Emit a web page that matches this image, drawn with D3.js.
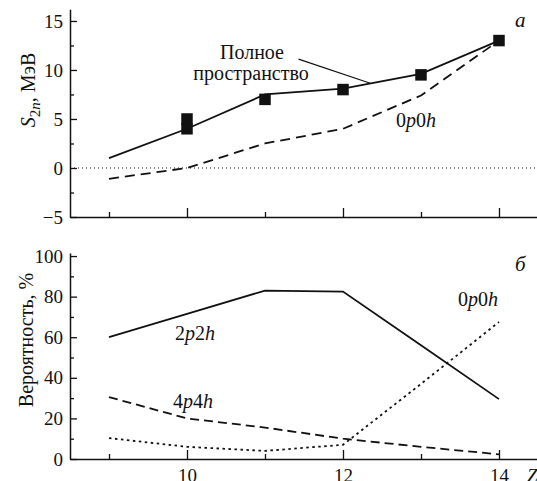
<!DOCTYPE html>
<html>
<head>
<meta charset="utf-8">
<script src="https://cdn.jsdelivr.net/npm/d3@7"></script>
</head>
<body style="margin:0">
<svg width="537" height="481"></svg>
<script>
// Z values
const zValues = [9, 10, 11, 12, 13, 14];

// panel a: S2n, MeV
const fullSpace = [1, 4, 7.5, 8.1, 9.6, 13];
const zeroP0h = [-1.1, 0, 2.5, 4, 7.4, 13];
const expZ = [10, 10, 11, 12, 13, 14];
const expS2n = [4, 5, 7, 8, 9.5, 13];

// panel б: probability, %
const p2p2h = [60, 71.5, 83, 82.5, 56, 29.5];
const p4p4h = [30.5, 20, 15.5, 10, 6, 2.3];
const p0p0h = [10.3, 6, 4, 7, 37, 67.5];

const topTicksMajor = [-5, 0, 5, 10, 15];
const topTicksMinor = [-2.5, 2.5, 7.5, 12.5];
const botTicksMajor = [0, 20, 40, 60, 80, 100];
const botTicksMinor = [10, 30, 50, 70, 90];
const xTicksMajor = [10, 12, 14];
const xTicksMinor = [9, 11, 13];

const ink = "#111";
const face = '"Liberation Serif"';

const x = d3.scaleLinear().domain([8.5, 14.5]).range([70, 538]);
const yTop = d3.scaleLinear().domain([-5, 16.2]).range([217, 9.2]);
const yBot = d3.scaleLinear().domain([0, 101.5]).range([459, 253]);

const svg = d3.select("svg");

// plain label helper: serif face set on creation
function label(xp, yp, size) {
  return svg.append("text")
    .attr("x", xp).attr("y", yp)
    .style("font-family", face)
    .style("font-size", size + "px")
    .attr("fill", ink);
}

function styleAxis(g) {
  g.attr("font-family", null).attr("font-size", null);
  g.selectAll("path.domain").attr("stroke", ink).attr("stroke-width", 1.5);
  g.selectAll(".tick line").attr("stroke", ink).attr("stroke-width", 1.3);
  g.selectAll(".tick text")
    .attr("fill", ink)
    .style("font-family", face)
    .style("font-size", "19px");
}

function drawYAxis(scale, major, minor) {
  svg.append("g")
    .attr("transform", "translate(70,0)")
    .call(d3.axisLeft(scale).tickValues(minor).tickSize(-4).tickSizeOuter(0).tickFormat(""))
    .call(g => g.select(".domain").remove())
    .call(styleAxis);
  svg.append("g")
    .attr("transform", "translate(70,0)")
    .call(d3.axisLeft(scale).tickValues(major).tickSize(-7).tickSizeOuter(0).tickPadding(7)
      .tickFormat(d => d < 0 ? "\u2212" + Math.abs(d) : d))
    .call(styleAxis);
}

function drawXAxis(y0, labels) {
  svg.append("g")
    .attr("transform", `translate(0,${y0})`)
    .call(d3.axisBottom(x).tickValues(xTicksMinor).tickSize(-5).tickSizeOuter(0).tickFormat(""))
    .call(g => g.select(".domain").remove())
    .call(styleAxis);
  svg.append("g")
    .attr("transform", `translate(0,${y0})`)
    .call(d3.axisBottom(x).tickValues(xTicksMajor).tickSize(-9).tickSizeOuter(0).tickPadding(10)
      .tickFormat(labels ? d => d : ""))
    .call(styleAxis);
}

// ---- panel a ----
drawYAxis(yTop, topTicksMajor, topTicksMinor);
drawXAxis(yTop(-5), false);

// zero line
svg.append("line")
  .attr("x1", x(8.5)).attr("x2", x(14.5))
  .attr("y1", yTop(0)).attr("y2", yTop(0))
  .attr("stroke", ink).attr("stroke-width", 1)
  .attr("stroke-dasharray", "1,3");

const lineTop = d3.line().x((d, i) => x(zValues[i])).y(d => yTop(d));

svg.append("path")
  .datum(zeroP0h)
  .attr("d", lineTop)
  .attr("fill", "none").attr("stroke", ink).attr("stroke-width", 1.8)
  .attr("stroke-dasharray", "10,6");

svg.append("path")
  .datum(fullSpace)
  .attr("d", lineTop)
  .attr("fill", "none").attr("stroke", ink).attr("stroke-width", 1.8);

const sq = 11.5;
svg.append("g")
  .selectAll("rect")
  .data(expS2n)
  .join("rect")
  .attr("x", (d, i) => x(expZ[i]) - sq / 2)
  .attr("y", d => yTop(d) - sq / 2)
  .attr("width", sq).attr("height", sq)
  .attr("fill", ink);

// leader line for "Полное пространство"
svg.append("line")
  .attr("x1", x(11.43)).attr("y1", yTop(11.1))
  .attr("x2", x(12.35)).attr("y2", yTop(8.65))
  .attr("stroke", ink).attr("stroke-width", 1.2);

label(252, 59, 20).attr("text-anchor", "middle").text("Полное");
label(251, 80, 20).attr("text-anchor", "middle").text("пространство");

function labelPH(xp, yp, a, b) {
  const t = label(xp, yp, 20);
  t.append("tspan").text(a);
  t.append("tspan").style("font-style", "italic").text("p");
  t.append("tspan").text(b);
  t.append("tspan").style("font-style", "italic").text("h");
}

labelPH(396, 127, "0", "0");

label(515, 27, 21).style("font-style", "italic").text("a");

// y label a
const yl1 = label(0, 0, 20)
  .attr("transform", "translate(35,90) rotate(-90)")
  .attr("text-anchor", "middle");
yl1.append("tspan").style("font-style", "italic").text("S");
yl1.append("tspan").attr("dy", 5).style("font-size", "15px").text("2");
yl1.append("tspan").style("font-size", "15px").style("font-style", "italic").text("n");
yl1.append("tspan").attr("dy", -5).text(", МэВ");

// ---- panel б ----
drawYAxis(yBot, botTicksMajor, botTicksMinor);
drawXAxis(yBot(0), true);

const lineBot = d3.line().x((d, i) => x(zValues[i])).y(d => yBot(d));

svg.append("path").datum(p2p2h).attr("d", lineBot)
  .attr("fill", "none").attr("stroke", ink).attr("stroke-width", 1.8);
svg.append("path").datum(p4p4h).attr("d", lineBot)
  .attr("fill", "none").attr("stroke", ink).attr("stroke-width", 1.8)
  .attr("stroke-dasharray", "9,5");
svg.append("path").datum(p0p0h).attr("d", lineBot)
  .attr("fill", "none").attr("stroke", ink).attr("stroke-width", 1.8)
  .attr("stroke-dasharray", "2.5,3.5");

labelPH(175, 340, "2", "2");
labelPH(173, 408, "4", "4");
labelPH(458, 306, "0", "0");

label(515, 271, 21).style("font-style", "italic").text("б");
label(527, 482, 19).style("font-style", "italic").text("Z");

label(0, 0, 20)
  .attr("transform", "translate(33,340) rotate(-90)")
  .attr("text-anchor", "middle")
  .text("Вероятность, %");
</script>
</body>
</html>
